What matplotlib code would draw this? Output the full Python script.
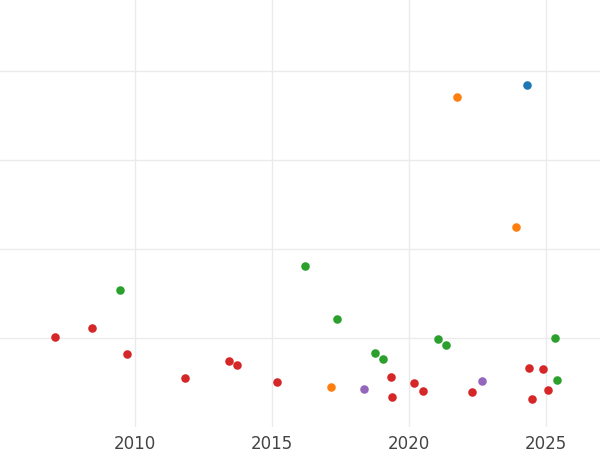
import matplotlib
matplotlib.use("Agg")
import matplotlib.pyplot as plt

red_x = [2007.08, 2008.43, 2009.71, 2011.82, 2013.43, 2013.72, 2015.18, 2019.34, 2019.38, 2020.18, 2020.51, 2022.30, 2024.38, 2024.89, 2024.49, 2025.07]
red_y = [1.01, 1.11, 0.82, 0.55, 0.74, 0.70, 0.51, 0.56, 0.34, 0.49, 0.40, 0.39, 0.66, 0.65, 0.31, 0.42]
green_x = [2009.45, 2016.20, 2017.37, 2018.76, 2019.05, 2021.06, 2021.35, 2025.33, 2025.40]
green_y = [1.54, 1.81, 1.22, 0.83, 0.76, 0.99, 0.92, 1.00, 0.53]
orange_x = [2021.75, 2023.90, 2017.15]
orange_y = [3.71, 2.25, 0.45]
purple_x = [2018.35, 2022.66]
purple_y = [0.43, 0.52]
blue_x = [2024.30]
blue_y = [3.84]

fig = plt.figure(figsize=(6, 4.5), dpi=100)
ax = fig.add_axes([0, 0.051, 1, 0.949])
for xs, ys, c in [(red_x, red_y, "#d62728"), (green_x, green_y, "#2ca02c"),
                  (orange_x, orange_y, "#ff7f0e"), (purple_x, purple_y, "#9467bd"),
                  (blue_x, blue_y, "#1f77b4")]:
    ax.scatter(xs, ys, s=38, color=c, zorder=3, linewidths=0)
ax.set_xlim(2005.07, 2026.97)
ax.set_ylim(0, 4.8)
ax.set_xticks([2010, 2015, 2020, 2025])
ax.set_yticks([1, 2, 3, 4])
ax.set_yticklabels([])
ax.grid(True, color="#ebebeb", linewidth=1)
ax.tick_params(axis="both", length=0, labelsize=12, labelcolor="#444444")
ax.tick_params(axis="x", pad=6)
for s in ax.spines.values():
    s.set_visible(False)
fig.savefig("out.png", dpi=100)
